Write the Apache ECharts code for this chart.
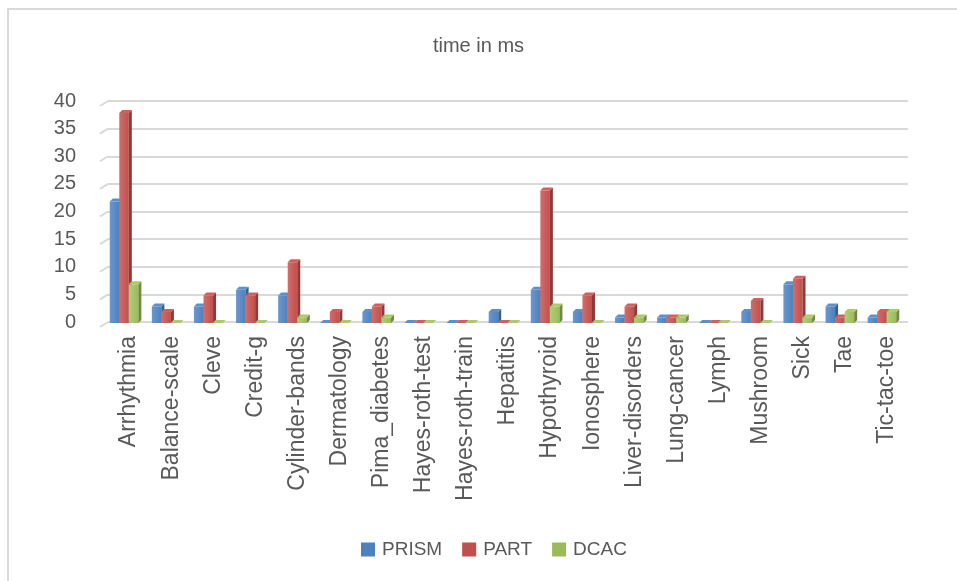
<!DOCTYPE html>
<html>
<head>
<meta charset="utf-8">
<script src="https://cdn.jsdelivr.net/npm/echarts@6/dist/echarts.min.js"></script>
<style>
html,body{margin:0;padding:0;background:#fff;}
#chart{width:957px;height:581px;}
</style>
</head>
<body>
<div id="chart"></div>
<script>
// Run time per dataset for three classifiers
const categories = ['Arrhythmia','Balance-scale','Cleve','Credit-g','Cylinder-bands','Dermatology','Pima_diabetes','Hayes-roth-test','Hayes-roth-train','Hepatitis','Hypothyroid','Ionosphere','Liver-disorders','Lung-cancer','Lymph','Mushroom','Sick','Tae','Tic-tac-toe'];
const prism = [22, 3, 3, 6, 5, 0, 2, 0, 0, 2, 6, 2, 1, 1, 0, 2, 7, 3, 1];
const part  = [38, 2, 5, 5, 11, 2, 3, 0, 0, 0, 24, 5, 3, 1, 0, 4, 8, 1, 2];
const dcac  = [7, 0, 0, 0, 1, 0, 1, 0, 0, 0, 3, 0, 1, 1, 0, 0, 1, 2, 2];
const yTicks = [0, 5, 10, 15, 20, 25, 30, 35, 40];

const seriesDefs = [
  {name: 'PRISM', data: prism, front: '#4F81BD', light: '#6b97cd', side: '#36608f', top: '#5e8fcb'},
  {name: 'PART',  data: part,  front: '#C0504D', light: '#d16d6a', side: '#8f3a38', top: '#cf605d'},
  {name: 'DCAC',  data: dcac,  front: '#9BBB59', light: '#b2ce7a', side: '#718a3d', top: '#acc96c'}
];

const FONT = 'Liberation Sans';
const DEPTH = 3;       // extrusion of the bar boxes
const FRONT_SHIFT = 5; // front plane sits left of the back wall
const WALL_DX = 8, WALL_DY = 5; // floor edge running from the wall to the front

function makeRender(k, def) {
  return function (params, api) {
    const idx = api.value(0);
    const val = api.value(1);
    const topPt = api.coord([idx, val]);
    const basePt = api.coord([idx, 0]);
    const band = api.size([1, 0])[0];
    const groupW = band * 0.68;
    const barW = groupW / 3;
    const x0 = basePt[0] - FRONT_SHIFT - groupW / 2 + k * barW;
    const yBase = basePt[1] + 1;
    const yTop = topPt[1] + 1;
    const h = yBase - yTop;
    const children = [];
    if (h > 0) {
      children.push({
        type: 'rect',
        shape: {x: x0, y: yTop, width: barW, height: h},
        style: {fill: new echarts.graphic.LinearGradient(0, 0, 1, 0, [
          {offset: 0, color: def.light}, {offset: 1, color: def.front}
        ])}
      });
      children.push({
        type: 'polygon',
        shape: {points: [[x0 + barW, yTop], [x0 + barW + DEPTH, yTop - DEPTH], [x0 + barW + DEPTH, yBase - DEPTH], [x0 + barW, yBase]]},
        style: {fill: def.side}
      });
    }
    children.push({
      type: 'polygon',
      shape: {points: [[x0, yTop], [x0 + DEPTH, yTop - DEPTH], [x0 + barW + DEPTH, yTop - DEPTH], [x0 + barW, yTop]]},
      style: {fill: def.top}
    });
    return {type: 'group', children: children};
  };
}

// short slanted edges joining each gridline to the front of the floor
function renderWall(params, api) {
  const v = api.value(0);
  const cs = params.coordSys;
  const y = api.coord([0, v])[1];
  return {
    type: 'line',
    shape: {x1: cs.x, y1: y, x2: cs.x - WALL_DX, y2: y + WALL_DY},
    style: {stroke: '#d9d9d9', lineWidth: 2}
  };
}

const chart = echarts.init(document.getElementById('chart'));
chart.setOption({
  animation: false,
  backgroundColor: '#ffffff',
  title: {
    text: 'time in ms',
    left: 'center',
    top: 31,
    textStyle: {fontFamily: FONT, fontSize: 20, fontWeight: 'normal', color: '#595959'}
  },
  graphic: [{
    type: 'rect',
    shape: {x: 8, y: 9, width: 1000, height: 700},
    style: {fill: 'none', stroke: '#d9d9d9', lineWidth: 2},
    silent: true
  }],
  legend: {
    top: 535,
    left: 356,
    itemWidth: 14,
    itemHeight: 14,
    itemGap: 20,
    icon: 'rect',
    textStyle: {fontFamily: FONT, fontSize: 19, color: '#595959', padding: [0, 0, 0, 2]},
    data: seriesDefs.map(d => d.name)
  },
  grid: {left: 108, right: 49, top: 101, bottom: 259},
  xAxis: {
    type: 'category',
    data: categories,
    axisLine: {show: false},
    axisTick: {show: false},
    axisLabel: {
      rotate: 90,
      interval: 0,
      margin: 14,
      padding: [0, 0, 10, 0],
      fontFamily: FONT,
      fontSize: 23,
      color: '#595959'
    }
  },
  yAxis: {
    type: 'value',
    min: yTicks[0],
    max: yTicks[yTicks.length - 1],
    interval: 5,
    axisLine: {show: false},
    axisTick: {show: false},
    axisLabel: {margin: 32, fontFamily: FONT, fontSize: 20, color: '#595959'},
    splitLine: {lineStyle: {color: '#d9d9d9', width: 2}}
  },
  series: [{
    type: 'custom',
    silent: true,
    renderItem: renderWall,
    encode: {y: 0},
    data: yTicks.map(v => [v])
  }].concat(seriesDefs.map((d, k) => ({
    name: d.name,
    type: 'custom',
    itemStyle: {color: d.front},
    renderItem: makeRender(k, d),
    encode: {x: 0, y: 1},
    data: d.data.map((v, i) => [i, v])
  })))
});
</script>
</body>
</html>
